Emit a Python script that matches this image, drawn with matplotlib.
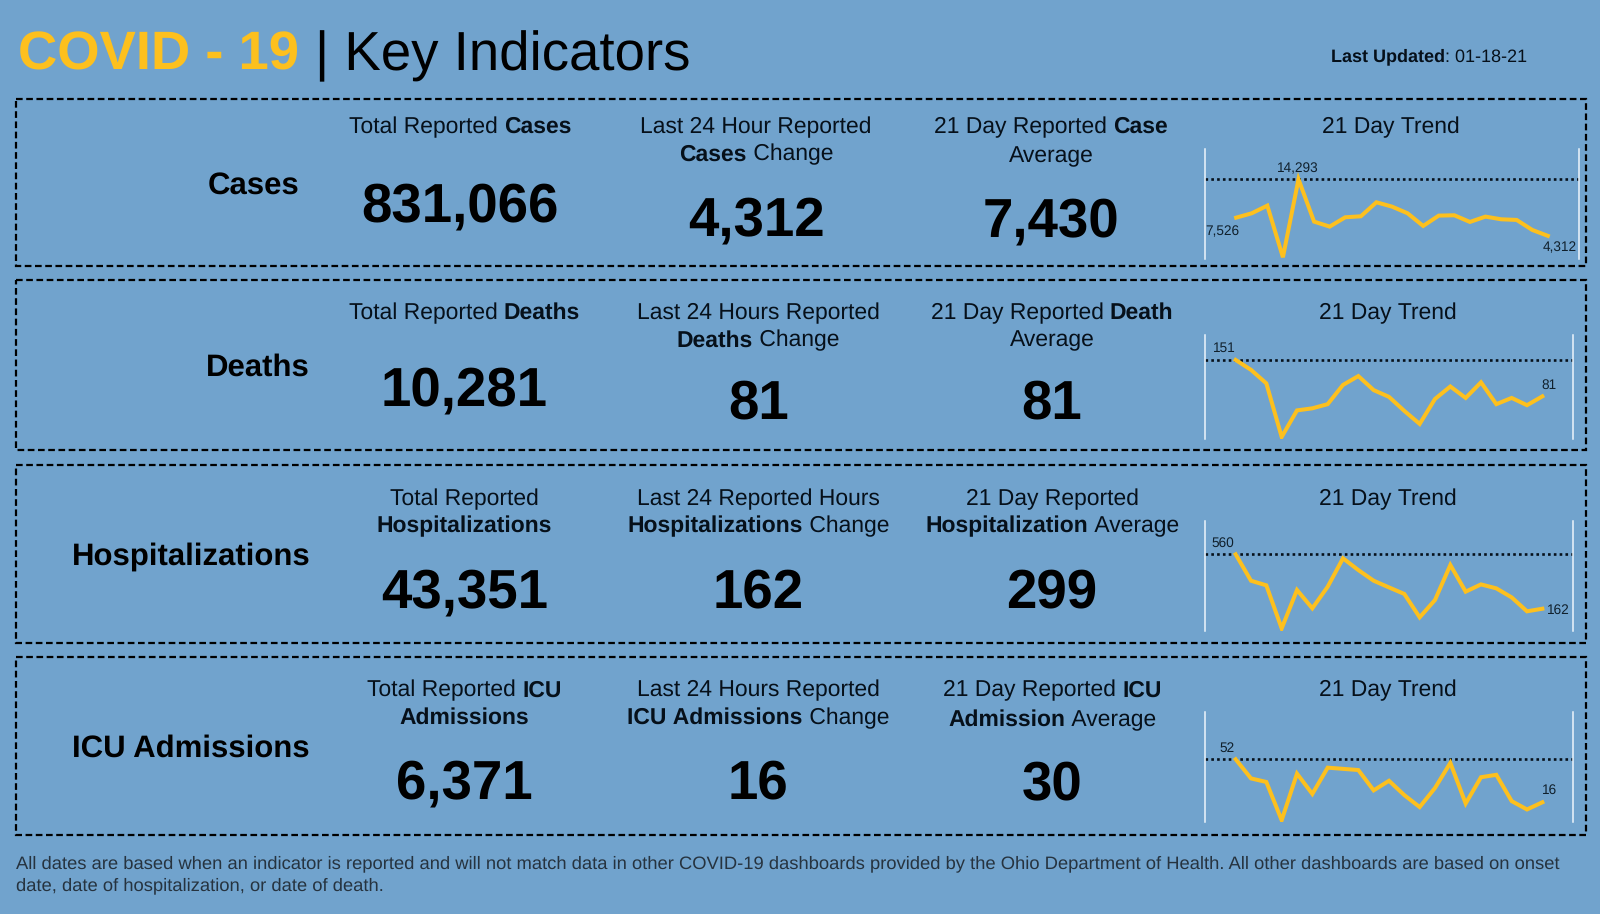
import matplotlib
matplotlib.use('Agg')
import matplotlib.pyplot as plt
from matplotlib.patches import Rectangle

BG = '#71a3cd'
YELLOW = '#fdc01e'
S = 1600 / 1568.0   # layout below was read at 1568 wide

row_names = ['Cases', 'Deaths', 'Hospitalizations', 'ICU Admissions']

# ** marks the bold part of a line
col1_heads = [['Total Reported **Cases**'],
              ['Total Reported **Deaths**'],
              ['Total Reported', '**Hospitalizations**'],
              ['Total Reported **ICU**', '**Admissions**']]
col2_heads = [['Last 24 Hour Reported', '**Cases** Change'],
              ['Last 24 Hours Reported', '**Deaths** Change'],
              ['Last 24 Reported Hours', '**Hospitalizations** Change'],
              ['Last 24 Hours Reported', '**ICU Admissions** Change']]
col3_heads = [['21 Day Reported **Case**', 'Average'],
              ['21 Day Reported **Death**', 'Average'],
              ['21 Day Reported', '**Hospitalization** Average'],
              ['21 Day Reported **ICU**', '**Admission** Average']]

totals = ['831,066', '10,281', '43,351', '6,371']
last_24 = ['4,312', '81', '162', '16']
averages = ['7,430', '81', '299', '30']

cases_trend = [7526, 8295, 9648, 534, 14293, 6825, 5943, 7590, 7766, 10236, 9471,
               8295, 6061, 7884, 7943, 6767, 7707, 7237, 7119, 5355, 4312]
deaths_trend = [151, 132, 106, 3, 54, 58, 66, 103, 120, 93, 80,
                53, 28, 76, 100, 78, 108, 66, 78, 64, 81]
hosp_trend = [560, 367, 333, 18, 299, 165, 323, 531, 445, 367, 318,
              270, 99, 226, 482, 287, 340, 311, 245, 143, 162]
icu_trend = [52, 36, 33, 1, 40, 23, 45, 44, 43, 26, 34,
             22, 12, 28, 49, 15, 37, 39, 17, 10, 16]
trends = [cases_trend, deaths_trend, hosp_trend, icu_trend]

plt.rcParams['font.family'] = ['Liberation Sans', 'DejaVu Sans']
plt.rcParams['text.hinting'] = 'no_hinting'   # widths jump around with hinting on

fig = plt.figure(figsize=(16, 9.14), dpi=100, facecolor=BG)
bg = fig.add_axes([0, 0, 1, 1])
bg.set_xlim(0, 1600)
bg.set_ylim(914, 0)
bg.axis('off')


def put_runs(cx, y, line, size, color='#06101a', anchor='center'):
    # a line with mixed bold needs its pieces measured and placed one by one
    parts = line.split('**')
    rend = fig.canvas.get_renderer()
    texts = []
    for i, part in enumerate(parts):
        if part == '':
            continue
        t = bg.text(0, y, part.replace(' ', '\u00a0'), fontsize=size, color=color,
                    va='center_baseline', fontweight='bold' if i % 2 else 'normal')
        texts.append((t, t.get_window_extent(rend).width))
    total = sum(w for t, w in texts)
    x = cx - total / 2 if anchor == 'center' else cx
    for t, w in texts:
        t.set_x(x)
        x += w


# title
bg.text(18 * S, 49 * S, 'COVID - 19', fontsize=39.2, fontweight='bold', color=YELLOW, va='center_baseline')
bg.text(309 * S, 49 * S, '| Key Indicators', fontsize=39.3, color='black', va='center_baseline')
put_runs(1400.5 * S, 54 * S, '**Last Updated**: 01-18-21', 13)

# dashed boxes
boxes = [(97, 261), (274, 441), (456, 630), (644, 818)]
for top, bottom in boxes:
    bg.add_patch(Rectangle((15.5 * S, top * S), 1538.5 * S, (bottom - top) * S, fill=False,
                           ec='black', lw=1.6, ls=(0, (3, 1.6))))

label_right = [293, 304, 304, 303.5]
label_y = [178.5, 357.5, 542.5, 730.5]
for name, r, y in zip(row_names, label_right, label_y):
    bg.text(r * S, y * S, name, fontsize=22.4, fontweight='bold', ha='right', va='center_baseline')

col_x = [[451, 741, 1030, 1363], [455, 743, 1031, 1360], [455, 743, 1031, 1360], [455, 743, 1031, 1360]]
head_y = [[(122, 149), (122, 149), (122, 151)],
          [(304.5, 331.5), (304.5, 331.5), (304.5, 331.5)],
          [(486.5, 513.5), (486.5, 513.5), (486.5, 513.5)],
          [(674.5, 701.5), (674.5, 701.5), (674.5, 703.5)]]
num_y = [(198, 211, 212), (378, 391, 391), (576, 576, 576), (763, 763, 765)]

for r in range(4):
    heads = [col1_heads[r], col2_heads[r], col3_heads[r]]
    nums = [totals[r], last_24[r], averages[r]]
    for c in range(3):
        for line, y in zip(heads[c], head_y[r][c]):
            put_runs(col_x[r][c] * S, y * S, line, 16.45)
        bg.text(col_x[r][c] * S, num_y[r][c] * S, nums[c], fontsize=39.3, fontweight='bold',
                ha='center', va='center_baseline')
    put_runs(col_x[r][3] * S, head_y[r][0][0] * S, '21 Day Trend', 16.45)

# sparklines: px box of each one, left, right, top, bottom
spark_px = [(1205, 1579, 149, 259), (1205, 1573, 335, 439), (1205, 1573, 521, 631), (1205, 1573, 712, 822)]
spark_ylim = [(227, 19640), (-1, 199), (-1, 804), (-0.5, 91.6)]
# label offsets in points for the first/peak label and the last label
label_off = [((-22.5, -12.5), (-4, -11)), ((-16, 6), (-0.5, 5.5)), ((-17.5, 5.3), (3, -4)), ((-12, 5.3), (-0.5, 6.3))]

for r, vals in enumerate(trends):
    left, right, top, bottom = spark_px[r]
    ax = fig.add_axes([left / 1600, 1 - bottom / 914, (right - left) / 1600, (bottom - top) / 914])
    ax.patch.set_alpha(0)
    ax.set_xlim(-2, 22)
    ax.set_ylim(*spark_ylim[r])
    ax.set_xticks([])
    ax.set_yticks([])
    for side in ['top', 'bottom']:
        ax.spines[side].set_visible(False)
    for side in ['left', 'right']:
        ax.spines[side].set_color('#eef5fb')
        ax.spines[side].set_linewidth(1.1)
    peak = max(vals)
    ax.axhline(peak, color='#06101a', lw=1.9, ls=(0, (1, 1.2)))
    ax.plot(range(21), vals, color=YELLOW, lw=2.9, solid_joinstyle='miter')
    peak_i = vals.index(peak)
    off_first, off_last = label_off[r]
    if r == 0:
        ax.annotate(f'{vals[0]:,}', (0, vals[0]), xytext=off_first, textcoords='offset points', fontsize=9.8, color='#10202c', annotation_clip=False)
        ax.annotate(f'{peak:,}', (peak_i, peak), xytext=(-15.5, 5.3), textcoords='offset points', fontsize=9.8, color='#10202c')
    else:
        ax.annotate(f'{peak:,}', (peak_i, peak), xytext=off_first, textcoords='offset points', fontsize=9.8, color='#10202c')
    ax.annotate(f'{vals[-1]:,}', (20, vals[-1]), xytext=off_last, textcoords='offset points', fontsize=9.8, color='#10202c')

note = ['All dates are based when an indicator is reported and will not match data in other COVID-19 dashboards provided by the Ohio Department of Health. All other dashboards are based on onset',
        'date, date of hospitalization, or date of death.']
for line, y in zip(note, [844.5, 866.5]):
    bg.text(16 * S, y * S, line, fontsize=13.2, color='#26333f', va='center_baseline')

fig.savefig('out.png', dpi=100, facecolor=BG)
